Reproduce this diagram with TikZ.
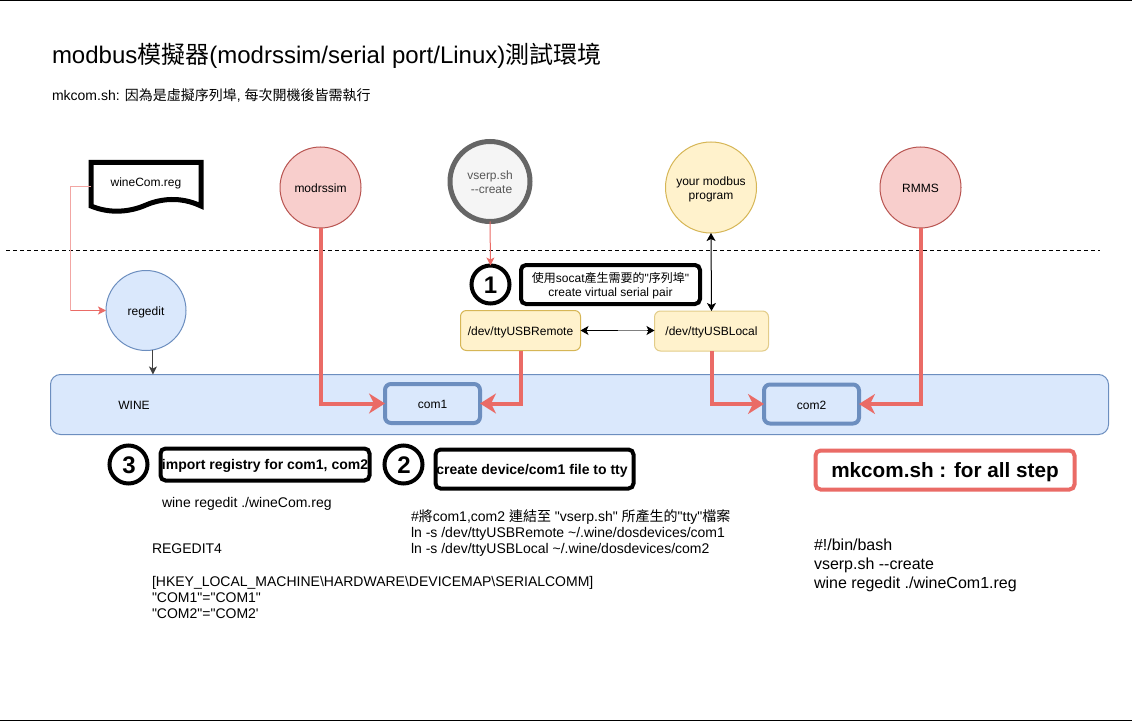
\documentclass[tikz,border=0pt]{standalone}
\usepackage{fontspec}
\usetikzlibrary{arrows.meta,calc}
\newfontfamily\lsans{Liberation Sans}
\newfontfamily\cjk{Noto Sans CJK TC}
\newcommand{\zh}[1]{{\cjk #1}}
\newcommand{\fs}[2]{\fontsize{#1}{#2}\selectfont\lsans}
\newcommand{\dn}[2]{\raisebox{-#1}[\height][\depth]{#2}}
\newcommand{\two}[2]{\begin{tabular}{@{}c@{}}#1\\#2\end{tabular}}
\definecolor{redS}{HTML}{B85450}\definecolor{redF}{HTML}{F8CECC}
\definecolor{yelS}{HTML}{D6B656}\definecolor{yelF}{HTML}{FFF2CC}
\definecolor{bluS}{HTML}{6C8EBF}\definecolor{bluF}{HTML}{DAE8FC}
\definecolor{gryS}{HTML}{666666}\definecolor{gryF}{HTML}{F5F5F5}
\definecolor{link}{HTML}{EA6B66}
\tikzset{
  x=1pt,y=-1pt,
  every node/.style={inner sep=0pt,outer sep=0pt},
  disc/.style={circle,draw,line width=1pt,minimum size=#1,align=center,font=\fs{12}{14}},
  devbox/.style={rectangle,rounded corners=6pt,draw=yelS,fill=yelF,line width=1pt,font=\fs{12}{14}},
  combox/.style={rectangle,rounded corners=6pt,draw=bluS,line width=4pt,fill=bluF,font=\fs{12}{14},minimum width=95pt,minimum height=39pt},
  stepnum/.style={circle,draw=black,line width=4pt,minimum size=38pt,font=\fs{24}{28}\bfseries},
  stepbox/.style={rectangle,rounded corners=5pt,draw=black,line width=4pt,align=center},
  plain/.style={anchor=north west,align=left},
  thick link/.style={draw=link,line width=4pt,-{Stealth[length=16pt,width=20pt,inset=5pt]}},
  thin link/.style={draw=link,line width=1pt,-{Stealth[length=8pt,width=8pt,inset=2pt]}},
  both link/.style={draw=black,line width=1pt,{Stealth[length=8pt,width=9pt,inset=2pt]}-{Stealth[length=8pt,width=9pt,inset=2pt]}},
}
\begin{document}
\begin{tikzpicture}
\useasboundingbox (0,0) rectangle (1132,722);
\fill[white] (0,0) rectangle (1132,722);
\coordinate (tl) at (0,0.5); \coordinate (tr) at (1132,0.5);
\coordinate (bl) at (0,720); \coordinate (br) at (1132,720);
\coordinate (dl) at (6,250.5); \coordinate (dr) at (1100,250.5);
\draw[line width=1pt] (tl) -- (tr);
\draw[line width=1pt] (bl) -- (br);
\draw[line width=1pt,dash pattern=on 4pt off 3pt] (dl) -- (dr);

\node[anchor=base west,font=\fs{24}{28}] (title) at (52,64) {modbus\zh{模擬器}(modrssim/serial port/Linux)\zh{測試環境}};
\node[anchor=base west,font=\fs{14}{16}] (sub) at (52,100.5) {mkcom.sh: \zh{因為是虛擬序列埠}, \zh{每次開機後皆需執行}};

% wine band
\node[rectangle,rounded corners=10pt,draw=bluS,fill=bluF,line width=1pt,minimum width=1058pt,minimum height=60pt] (wine) at (579.5,404.5) {};
\node[font=\fs{12}{14}] (winet) at (134,405) {WINE};

% document
\node[font=\fs{12}{14}] (doc) at (146,181.5) {\dn{1.5pt}{wineCom.reg}};
\coordinate (docw) at (91,187);
\draw[line width=5pt,miter limit=4] (91,162.5) -- (201,162.5) -- (201,206) .. controls (180,196) and (160,199) .. (146,205) .. controls (130,212) and (110,214) .. (91,206) -- cycle;

% circles
\node[disc,draw=redS,fill=redF,minimum size=81pt] (modr) at (320.5,187.5) {\dn{1pt}{modrssim}};
\node[disc,draw=gryS,fill=gryF,line width=5pt,minimum size=80pt,text=gryS!85!black] (vserp) at (490,181.5) {\dn{2pt}{\two{vserp.sh}{\hspace*{3pt}{-}{-}create}}};
\node[disc,draw=yelS,fill=yelF,minimum size=91pt] (prog) at (711,187.5) {\dn{2pt}{\two{your modbus}{program}}};
\node[disc,draw=redS,fill=redF,minimum size=81pt] (rmms) at (920.5,187.5) {\dn{1pt}{RMMS}};
\node[disc,draw=bluS,fill=bluF,minimum size=80pt] (reg) at (146,310.5) {\dn{1.5pt}{regedit}};

% device boxes
\node[devbox,minimum width=120pt,minimum height=40pt] (remote) at (520.5,330.5) {\dn{1.5pt}{/dev/ttyUSBRemote}};
\node[devbox,draw=yelS!70,minimum width=114pt,minimum height=40pt] (local) at (711.5,331) {\dn{1.5pt}{/dev/ttyUSBLocal}};

% com boxes
\node[combox] (com1) at (432.5,403.5) {\dn{1pt}{com1}};
\node[combox] (com2) at (811.5,404) {\dn{1pt}{com2}};

% step 1
\node[stepnum] (s1) at (490.5,284.5) {\dn{1pt}{1}};
\node[stepbox,minimum width=179pt,minimum height=39pt,font=\fs{12}{14}] (b1) at (610.5,284.5) {\dn{2.5pt}{\two{\zh{使用}socat\zh{產生需要的}"\zh{序列埠}"}{create virtual serial pair}}};

% step 3, 2
\node[stepnum] (s3) at (128.5,464.5) {\dn{1pt}{\hspace*{1pt}3}};
\node[stepbox,minimum width=209pt,minimum height=32pt,font=\fs{14}{16}\bfseries] (b3) at (265,464.5) {\dn{1pt}{import registry for com1, com2}};
\node[stepnum] (s2) at (403.5,464.5) {\dn{1pt}{\hspace*{1pt}2}};
\node[stepbox,minimum width=198pt,minimum height=39pt,font=\fs{14}{16}\bfseries] (b2) at (534.5,469) {\dn{2pt}{\hspace*{-5pt}create device/com1 file to tty}};

% mkcom
\node[stepbox,draw=link,minimum width=259pt,minimum height=39pt,font=\fs{20.7}{24}\bfseries] (mk) at (945,470) {\dn{2.5pt}{mkcom.sh : for all step}};

% connectors
\draw[draw=link!60,line width=1pt] (docw) -- ++(-20.5,0) coordinate (c1) -- (c1 |- reg) coordinate (c2);
\draw[thin link] (c2) -- (reg.west);
\draw[thin link] (vserp.south) -- (s1.north);
\draw[draw=black!75,line width=1pt,-{Stealth[length=8pt,width=8pt,inset=2pt]}] (reg.-80) -- (reg.-80 |- wine.north);
\draw[thick link] (modr.south) |- (com1.west);
\draw[thick link] (rmms.south) |- (com2.east);
\draw[thick link] (remote.south) |- (com1.east);
\draw[thick link] (local.south) |- (com2.west);
\draw[both link] (prog.south) -- (local.north);
\draw[both link] (remote.east) -- (local.west |- remote.east);
\coordinate (midg) at ($(remote.east)!0.5!(local.west |- remote.east)$);
\draw[draw=gray,line width=1.3pt] (midg) -- ([xshift=-8pt]local.west |- remote.east);

% plain texts
\node[plain,font=\fs{14}{16}] (t1) at (162,497) {wine regedit ./wineCom.reg};
\node[plain,font=\fs{14}{16}] (t2) at (411,510) {\#\zh{將}com1,com2 \zh{連結至} "vserp.sh" \zh{所產生的}"tty"\zh{檔案}\\ln -s /dev/ttyUSBRemote \textasciitilde/.wine/dosdevices/com1\\ln -s /dev/ttyUSBLocal \textasciitilde/.wine/dosdevices/com2};
\node[plain,font=\fs{14}{16.3}] (t3) at (152,544) {REGEDIT4\\[16.3pt]{}[HKEY\_LOCAL\_MACHINE\textbackslash HARDWARE\textbackslash DEVICEMAP\textbackslash SERIALCOMM]\\"COM1"="COM1"\\"COM2"="COM2'};
\node[plain,font=\fs{16}{19}] (t4) at (814,539) {\#!/bin/bash\\vserp.sh {-}{-}create\\wine regedit ./wineCom1.reg};
\end{tikzpicture}
\end{document}
